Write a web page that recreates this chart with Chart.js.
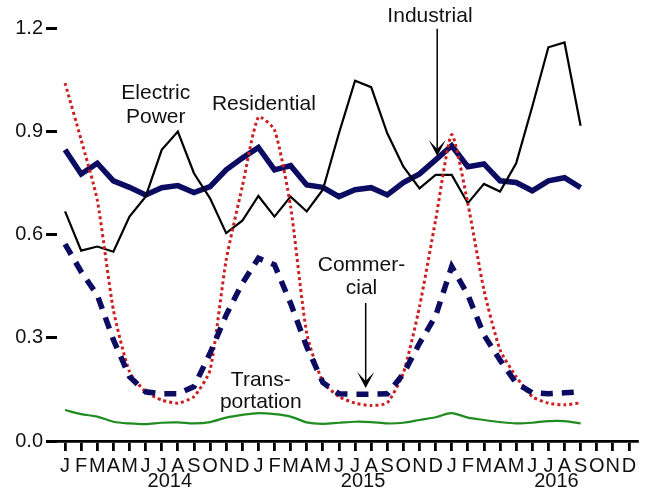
<!DOCTYPE html>
<html lang="en">
<head>
<meta charset="UTF-8">
<title>Natural gas consumption by sector</title>
<script src="https://cdn.jsdelivr.net/npm/chart.js"></script>
<style>
  html, body { margin: 0; padding: 0; background: #fff; }
  #wrap { width: 649px; height: 491px; }
</style>
</head>
<body>
<div id="wrap"><canvas id="chart" width="649" height="491"></canvas></div>
<script>
// months Jan 2014 .. Dec 2016
const monthLabels = ['J','F','M','A','M','J','J','A','S','O','N','D',
                     'J','F','M','A','M','J','J','A','S','O','N','D',
                     'J','F','M','A','M','J','J','A','S','O','N','D'];
const years = ['2014', '2015', '2016'];
const yTicks = [0, 0.3, 0.6, 0.9, 1.2];

// values Jan 2014 .. Sep 2016
const industrial = [0.846, 0.776, 0.807, 0.756, 0.737, 0.715, 0.736, 0.742, 0.722, 0.739, 0.788, 0.822,
                    0.853, 0.788, 0.800, 0.744, 0.737, 0.710, 0.730, 0.736, 0.715, 0.751, 0.776, 0.817,
                    0.858, 0.797, 0.805, 0.756, 0.751, 0.727, 0.756, 0.765, 0.736];
const electricPower = [0.667, 0.553, 0.565, 0.550, 0.652, 0.710, 0.846, 0.899, 0.778, 0.705, 0.604, 0.640,
                       0.712, 0.652, 0.710, 0.667, 0.730, 0.894, 1.047, 1.028, 0.894, 0.797, 0.734, 0.773,
                       0.773, 0.691, 0.747, 0.725, 0.807, 0.972, 1.144, 1.158, 0.916];
const residential = [1.040, 0.875, 0.700, 0.381, 0.201, 0.143, 0.119, 0.110, 0.129, 0.206, 0.526, 0.739,
                     0.941, 0.904, 0.681, 0.313, 0.172, 0.129, 0.110, 0.103, 0.111, 0.198, 0.390, 0.642,
                     0.890, 0.690, 0.439, 0.265, 0.187, 0.129, 0.110, 0.105, 0.111];
const commercial = [0.572, 0.492, 0.424, 0.294, 0.187, 0.143, 0.137, 0.137, 0.158, 0.255, 0.366, 0.458,
                    0.531, 0.512, 0.400, 0.274, 0.170, 0.137, 0.136, 0.136, 0.137, 0.195, 0.284, 0.363,
                    0.507, 0.425, 0.308, 0.235, 0.168, 0.140, 0.137, 0.140, 0.143];
const transportation = [0.090, 0.078, 0.071, 0.056, 0.051, 0.049, 0.053, 0.054, 0.051, 0.055, 0.068, 0.076,
                        0.081, 0.078, 0.071, 0.054, 0.050, 0.053, 0.056, 0.055, 0.051, 0.053, 0.061, 0.069,
                        0.081, 0.068, 0.061, 0.055, 0.051, 0.053, 0.058, 0.058, 0.051];

// text labels placed in data space (month index, value)
const notes = [
  { lines: ['Electric', 'Power'], x: 5.63, y: [1.012, 0.942] },
  { lines: ['Residential'], x: 12.34, y: [0.980] },
  { lines: ['Industrial'], x: 22.65, y: [1.233] },
  { lines: ['Commer-', 'cial'], x: 18.4, y: [0.512, 0.445] },
  { lines: ['Trans-', 'portation'], x: 12.15, y: [0.177, 0.113] }
];
const arrows = [
  { x: 23.1, from: 1.198, to: 0.828 },
  { x: 18.66, from: 0.401, to: 0.154 }
];

const FONT = '"Liberation Sans", Arial, sans-serif';

const notesPlugin = {
  id: 'notes',
  afterDraw(chart) {
    const { ctx, scales: { x, y } } = chart;
    ctx.save();
    ctx.fillStyle = '#111';
    ctx.font = '21px ' + FONT;
    ctx.textAlign = 'center';
    ctx.textBaseline = 'middle';
    notes.forEach(n => {
      n.lines.forEach((t, i) => ctx.fillText(t, x.getPixelForValue(n.x), y.getPixelForValue(n.y[i])));
    });
    // arrows
    ctx.strokeStyle = '#000';
    ctx.lineWidth = 1.5;
    arrows.forEach(a => {
      const px = x.getPixelForValue(a.x);
      const y0 = y.getPixelForValue(a.from);
      const y1 = y.getPixelForValue(a.to);
      ctx.beginPath();
      ctx.moveTo(px, y0);
      ctx.lineTo(px, y1 - 6);
      ctx.stroke();
      ctx.beginPath();
      ctx.moveTo(px, y1);
      ctx.lineTo(px - 8.5, y1 - 16);
      ctx.lineTo(px, y1 - 7);
      ctx.lineTo(px + 8.5, y1 - 16);
      ctx.closePath();
      ctx.fillStyle = '#000';
      ctx.fill();
    });
    // years under the month letters
    ctx.fillStyle = '#111';
    ctx.font = '20px ' + FONT;
    years.forEach((yr, i) => {
      ctx.fillText(yr, x.getPixelForValue(i * 12 + 6.5), 481);
    });
    ctx.restore();
  }
};

const ctx = document.getElementById('chart').getContext('2d');
new Chart(ctx, {
  type: 'line',
  data: {
    labels: monthLabels,
    datasets: [
      { label: 'Transportation', data: transportation, borderColor: '#1f8c1f', borderWidth: 2.2, tension: 0.3 },
      { label: 'Commercial', data: commercial, borderColor: '#0b0b62', borderWidth: 5.5, borderDash: [12, 9] },
      { label: 'Residential', data: residential, borderColor: '#cc1f1f', borderWidth: 3, borderDash: [3, 3], tension: 0.2 },
      { label: 'Electric Power', data: electricPower, borderColor: '#000', borderWidth: 2.2 },
      { label: 'Industrial', data: industrial, borderColor: '#0b0b62', borderWidth: 5.5 }
    ]
  },
  options: {
    responsive: false,
    animation: false,
    layout: { padding: { top: 28, right: 12, left: 0, bottom: 0 } },
    elements: { point: { radius: 0 }, line: { fill: false, borderCapStyle: 'butt' } },
    plugins: { legend: { display: false }, tooltip: { enabled: false } },
    scales: {
      x: {
        type: 'category',
        offset: true,
        grid: { offset: false, drawOnChartArea: false, drawTicks: true, tickLength: 10, color: '#000', lineWidth: 2.8 },
        border: { display: true, color: '#000', width: 2.8 },
        ticks: { autoSkip: false, maxRotation: 0, color: '#111', padding: 3, font: { family: FONT, size: 20 } },
        afterFit(scale) { scale.height = 50; }
      },
      y: {
        min: 0,
        max: 1.2,
        afterBuildTicks(scale) { scale.ticks = yTicks.map(v => ({ value: v })); },
        grid: { drawOnChartArea: false, drawTicks: true, tickLength: 11, color: '#000', lineWidth: 3 },
        border: { display: false },
        ticks: { color: '#111', padding: 3, font: { family: FONT, size: 20 }, callback: v => v.toFixed(1) },
        afterFit(scale) { scale.width = 57; }
      }
    }
  },
  plugins: [notesPlugin]
});
</script>
</body>
</html>
